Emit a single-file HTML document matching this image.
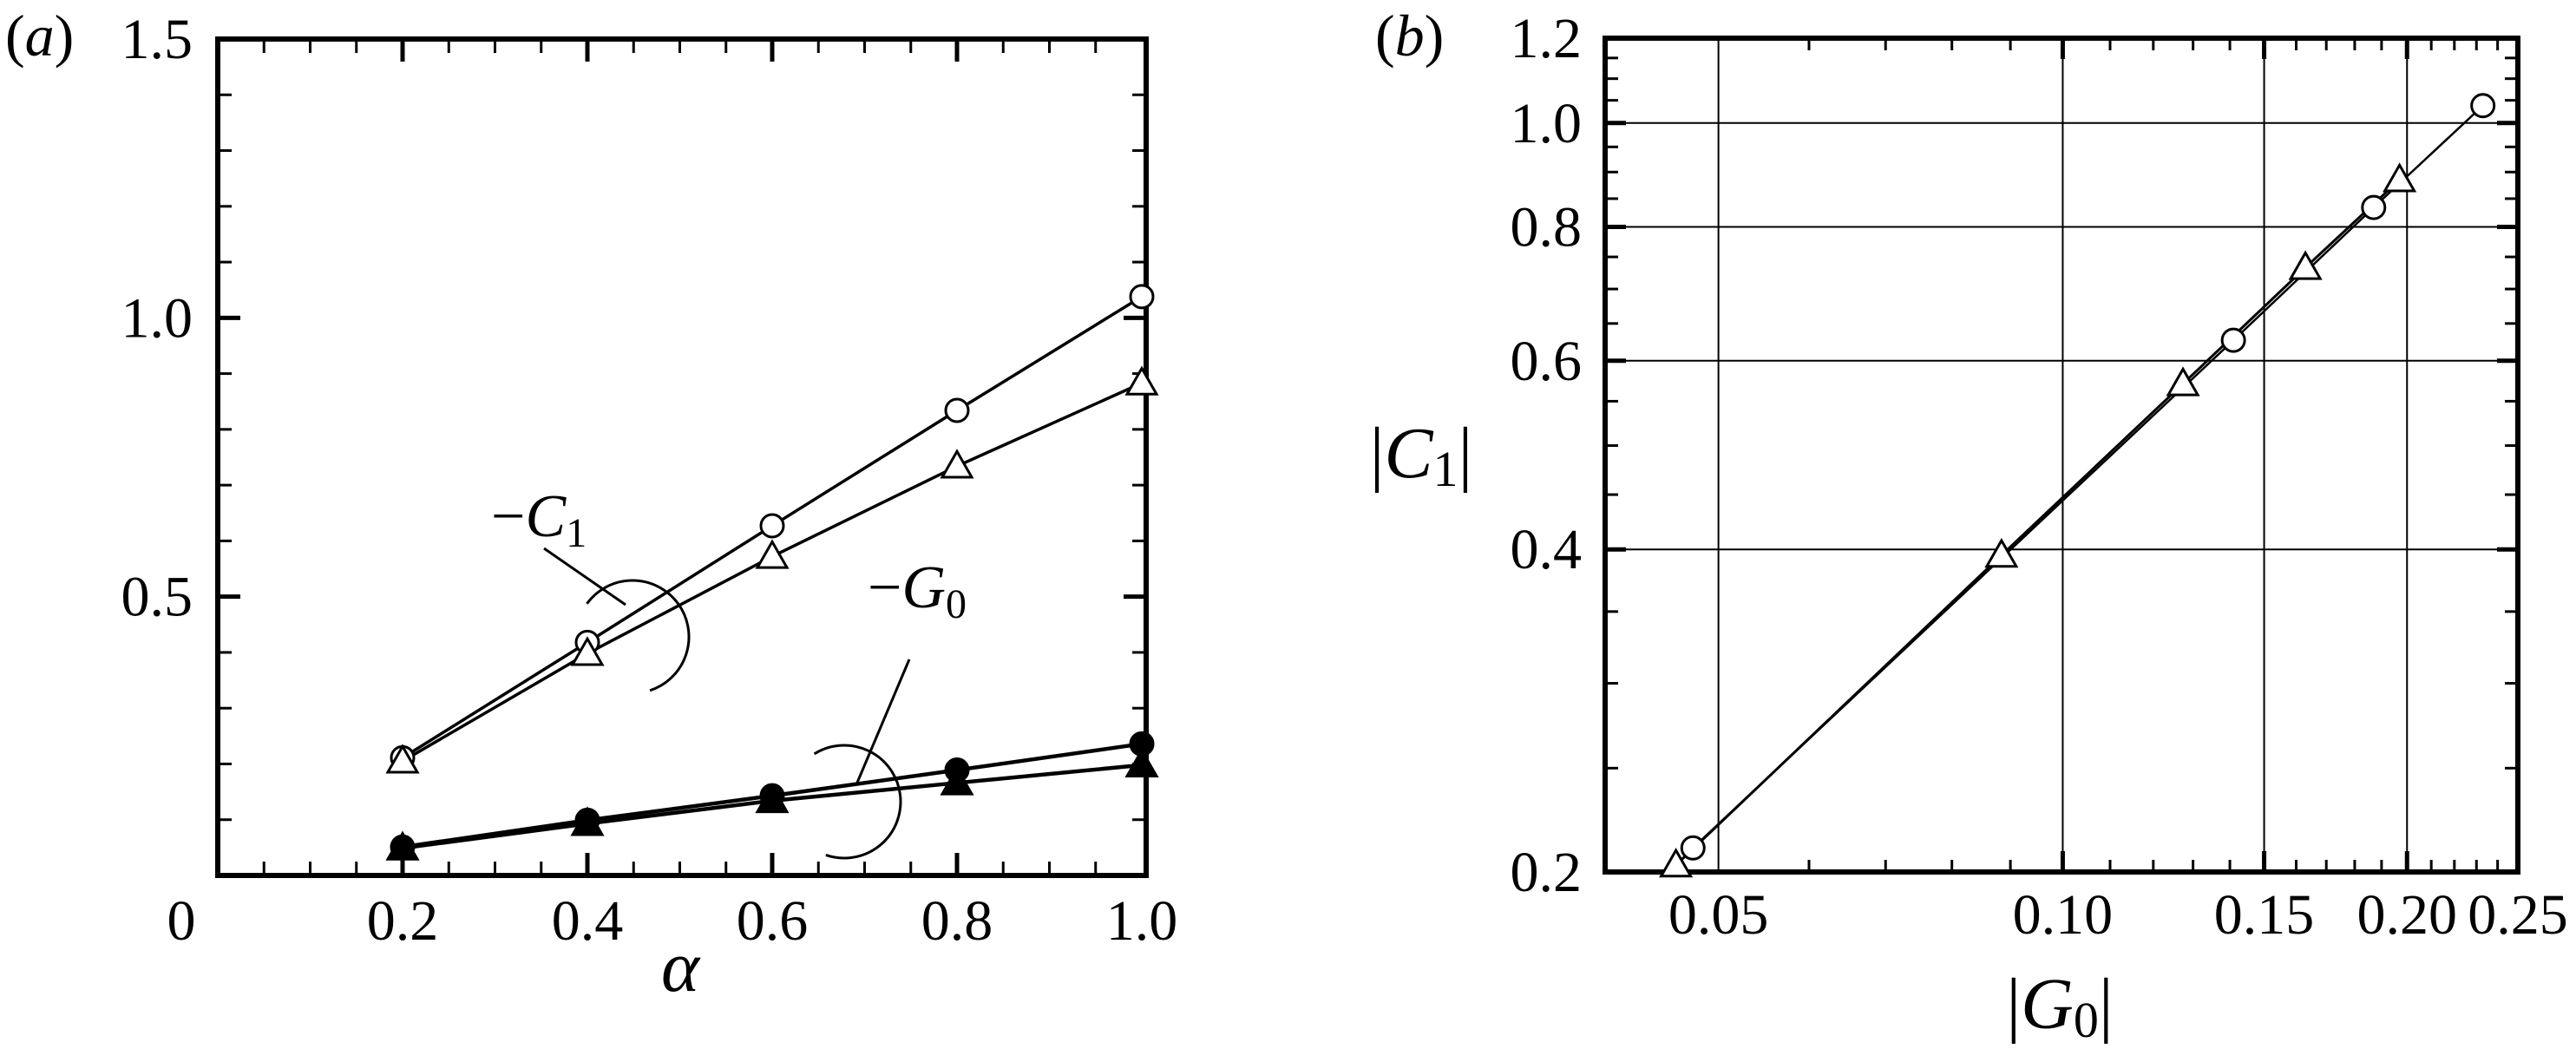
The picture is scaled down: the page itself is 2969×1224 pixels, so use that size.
<!DOCTYPE html>
<html><head><meta charset="utf-8"><style>
html,body{margin:0;padding:0;background:#fff;}
svg, svg text{font-family:"Liberation Serif","DejaVu Serif",serif;}
</style></head><body>
<svg id="fig" width="2969" height="1219" viewBox="0 0 2969 1219" xmlns="http://www.w3.org/2000/svg" font-family="Liberation Serif, DejaVu Serif, serif">
<g id="pa"></g>
<g id="pb"></g>
</svg>
<script>
// Panel (a) data
const alphaVals = [0.2, 0.4, 0.6, 0.8, 1.0];
const c1Circle = [0.211, 0.418, 0.627, 0.834, 1.038];
const c1Tri = [0.205, 0.398, 0.572, 0.734, 0.883];
const g0Circle = [0.051, 0.099, 0.143, 0.189, 0.236];
const g0Tri = [0.049, 0.093, 0.134, 0.166, 0.198];
const aXTicks = ["0", "0.2", "0.4", "0.6", "0.8", "1.0"];
const aXTickVals = [0, 0.2, 0.4, 0.6, 0.8, 1.0];
const aYTicks = ["0.5", "1.0", "1.5"];
const aYTickVals = [0.5, 1.0, 1.5];
// Panel (b) data
const bCircG0 = [0.0475, 0.141, 0.187, 0.233];
const bCircC1 = [0.2106, 0.627, 0.834, 1.038];
const bTriG0 = [0.0459, 0.0884, 0.1274, 0.163, 0.197];
const bTriC1 = [0.203, 0.395, 0.571, 0.733, 0.885];
const bXTicks = ["0.05", "0.10", "0.15", "0.20", "0.25"];
const bXTickVals = [0.05, 0.10, 0.15, 0.20, 0.25];
const bYTicks = ["0.2", "0.4", "0.6", "0.8", "1.0", "1.2"];
const bYTickVals = [0.2, 0.4, 0.6, 0.8, 1.0, 1.2];

const NS = "http://www.w3.org/2000/svg";
const FONT = "Liberation Serif, DejaVu Serif, serif";
function mk(parent, tag, attrs, text) {
  const e = document.createElementNS(NS, tag);
  for (const k in attrs) e.setAttribute(k, attrs[k]);
  if (tag === 'text') e.setAttribute('font-family', FONT);
  if (text !== undefined) e.textContent = text;
  parent.appendChild(e);
  return e;
}

// ---------- Panel A ----------
const pa = document.getElementById('pa');
const A = {l: 251, r: 1321, t: 45, b: 1009};
const ax = v => A.l + v * (1316 - 251);
const ay = v => A.b - v * (A.b - A.t) / 1.5;

for (let i = 1; i < 20; i++) {
  const v = i * 0.05, x = ax(v);
  const major = Math.abs(v * 5 - Math.round(v * 5)) < 1e-6;
  const len = major ? 26 : 16, w = major ? 5 : 3;
  let t = mk(pa, 'line', {x1: x, x2: x, y1: A.b, y2: A.b - len, stroke: '#000', 'stroke-width': w});
   
  t = mk(pa, 'line', {x1: x, x2: x, y1: A.t, y2: A.t + len, stroke: '#000', 'stroke-width': w});
   
}
for (let i = 1; i < 15; i++) {
  const v = i * 0.1, y = ay(v);
  const major = (i % 5 === 0);
  const len = major ? 26 : 16, w = major ? 5 : 3;
  let t = mk(pa, 'line', {x1: A.l, x2: A.l + len, y1: y, y2: y, stroke: '#000', 'stroke-width': w});
   
  t = mk(pa, 'line', {x1: A.r, x2: A.r - len, y1: y, y2: y, stroke: '#000', 'stroke-width': w});
   
}
let fr = mk(pa, 'rect', {x: A.l, y: A.t, width: A.r - A.l, height: A.b - A.t, fill: 'none', stroke: '#000', 'stroke-width': 6});
 

aXTicks.forEach((s, i) => {
  let x = ax(aXTickVals[i]);
  if (i === 0) x = 209;
  const t = mk(pa, 'text', {x: x, y: 1083, 'font-size': 66, 'text-anchor': 'middle'}, s);
   
});
aYTicks.forEach((s, i) => {
  const t = mk(pa, 'text', {x: 222, y: ay(aYTickVals[i]) + 22, 'font-size': 66, 'text-anchor': 'end'}, s);
   
});

function lineSeries(g, xs, ys, fx, fy, name, w) {
  const pts = xs.map((v, i) => fx(v) + ',' + fy(ys[i])).join(' ');
  const p = mk(g, 'polyline', {points: pts, fill: 'none', stroke: '#000', 'stroke-width': w || 3.5});
   
}
function circles(g, xs, ys, fx, fy, filled, name) {
  xs.forEach((v, i) => {
    const c = mk(g, 'circle', {cx: fx(v), cy: fy(ys[i]), r: 13, fill: filled ? '#000' : '#fff', stroke: '#000', 'stroke-width': 3});
     
  });
}
function tris(g, xs, ys, fx, fy, filled, name) {
  xs.forEach((v, i) => {
    const x = fx(v), y = fy(ys[i]), s = 17;
    const p = mk(g, 'polygon', {points: `${x},${y - s} ${x - s},${y + s * 0.75} ${x + s},${y + s * 0.75}`, fill: filled ? '#000' : '#fff', stroke: '#000', 'stroke-width': 3});
     
  });
}
lineSeries(pa, alphaVals, c1Circle, ax, ay, 'line-c1-circle');
lineSeries(pa, alphaVals, c1Tri, ax, ay, 'line-c1-triangle');
lineSeries(pa, alphaVals, g0Circle, ax, ay, 'line-g0-circle', 4.5);
lineSeries(pa, alphaVals, g0Tri, ax, ay, 'line-g0-triangle', 4.5);
tris(pa, alphaVals, g0Tri, ax, ay, true, 'marker-g0-triangle');
circles(pa, alphaVals, g0Circle, ax, ay, true, 'marker-g0-circle');
circles(pa, alphaVals, c1Circle, ax, ay, false, 'marker-c1-circle');
tris(pa, alphaVals, c1Tri, ax, ay, false, 'marker-c1-triangle');

function arc(g, cx, cy, r, a0, a1, name) {
  const rad = d => d * Math.PI / 180;
  const x0 = cx + r * Math.cos(rad(a0)), y0 = cy + r * Math.sin(rad(a0));
  const x1 = cx + r * Math.cos(rad(a1)), y1 = cy + r * Math.sin(rad(a1));
  const large = (a1 - a0) > 180 ? 1 : 0;
  const p = mk(g, 'path', {d: `M${x0},${y0} A${r},${r} 0 ${large} 1 ${x1},${y1}`, fill: 'none', stroke: '#000', 'stroke-width': 3});
   
}
arc(pa, 729, 734, 65, -144, 72, 'annotation-arc-c1');
arc(pa, 973, 924, 65, -122, 109, 'annotation-arc-g0');
let ld = mk(pa, 'line', {x1: 627, y1: 632, x2: 721, y2: 697, stroke: '#000', 'stroke-width': 3});
 
ld = mk(pa, 'line', {x1: 1048, y1: 760, x2: 988, y2: 902, stroke: '#000', 'stroke-width': 3});
 

let lab = mk(pa, 'text', {x: 566, y: 618, 'font-size': 70}, '');
 
lab.innerHTML = '<tspan>−</tspan><tspan font-style="italic">C</tspan><tspan font-size="48" dy="12">1</tspan>';
lab = mk(pa, 'text', {x: 1000, y: 700, 'font-size': 70}, '');
 
lab.innerHTML = '<tspan>−</tspan><tspan font-style="italic">G</tspan><tspan font-size="48" dy="12">0</tspan>';

lab = mk(pa, 'text', {x: 784, y: 1142, 'font-size': 84, 'font-style': 'italic', 'text-anchor': 'middle'}, 'α');
 
lab = mk(pa, 'text', {x: 6, y: 64, 'font-size': 68}, '');
 
lab.innerHTML = '(<tspan font-style="italic">a</tspan>)';

// ---------- Panel B ----------
const pb = document.getElementById('pb');
const B = {l: 1850, r: 2902, t: 44, b: 1005};
const bxDec = (B.r - B.l) / Math.log10(0.25 / 0.0398);
const bx = v => B.l + Math.log10(v / 0.0398) * bxDec;
const byDec = (B.b - B.t) / Math.log10(1.2 / 0.2);
const by = v => B.b - Math.log10(v / 0.2) * byDec;

[0.05, 0.10, 0.15, 0.20].forEach(v => {
  const g = mk(pb, 'line', {x1: bx(v), x2: bx(v), y1: B.t, y2: B.b, stroke: '#000', 'stroke-width': 2});
   
});
[0.4, 0.6, 0.8, 1.0].forEach(v => {
  const g = mk(pb, 'line', {x1: B.l, x2: B.r, y1: by(v), y2: by(v), stroke: '#000', 'stroke-width': 2});
   
});
for (let k = 6; k <= 24; k++) {
  const v = k / 100, x = bx(v);
  const major = (k % 5 === 0);
  const len = major ? 24 : 14, w = major ? 5 : 3;
  let t = mk(pb, 'line', {x1: x, x2: x, y1: B.b, y2: B.b - len, stroke: '#000', 'stroke-width': w});
   
  t = mk(pb, 'line', {x1: x, x2: x, y1: B.t, y2: B.t + len, stroke: '#000', 'stroke-width': w});
   
}
for (let k = 5; k <= 23; k++) {
  const v = k * 0.05, y = by(v);
  const major = (k % 4 === 0);
  const len = major ? 24 : 15, w = major ? 5 : 3;
  let t = mk(pb, 'line', {x1: B.l, x2: B.l + len, y1: y, y2: y, stroke: '#000', 'stroke-width': w});
   
  t = mk(pb, 'line', {x1: B.r, x2: B.r - len, y1: y, y2: y, stroke: '#000', 'stroke-width': w});
   
}
fr = mk(pb, 'rect', {x: B.l, y: B.t, width: B.r - B.l, height: B.b - B.t, fill: 'none', stroke: '#000', 'stroke-width': 6});
 

bXTicks.forEach((s, i) => {
  const t = mk(pb, 'text', {x: bx(bXTickVals[i]), y: 1076, 'font-size': 66, 'text-anchor': 'middle'}, s);
   
});
bYTicks.forEach((s, i) => {
  const t = mk(pb, 'text', {x: 1823, y: by(bYTickVals[i]) + 22, 'font-size': 66, 'text-anchor': 'end'}, s);
   
});

lineSeries(pb, bTriG0, bTriC1, bx, by, 'line-b-triangle', 3);
lineSeries(pb, bCircG0, bCircC1, bx, by, 'line-b-circle', 2.5);
circles(pb, bCircG0, bCircC1, bx, by, false, 'marker-b-circle');
tris(pb, bTriG0, bTriC1, bx, by, false, 'marker-b-triangle');

lab = mk(pb, 'text', {x: 2374, y: 1185, 'font-size': 84, 'text-anchor': 'middle'}, '');
 
lab.innerHTML = '|<tspan font-style="italic">G</tspan><tspan font-size="58" dy="10">0</tspan><tspan dy="-10">|</tspan>';
lab = mk(pb, 'text', {x: 1638, y: 550, 'font-size': 84, 'text-anchor': 'middle'}, '');
 
lab.innerHTML = '|<tspan font-style="italic">C</tspan><tspan font-size="58" dy="10">1</tspan><tspan dy="-10">|</tspan>';
lab = mk(pb, 'text', {x: 1585, y: 64, 'font-size': 68}, '');
 
lab.innerHTML = '(<tspan font-style="italic">b</tspan>)';
</script>
</body></html>
